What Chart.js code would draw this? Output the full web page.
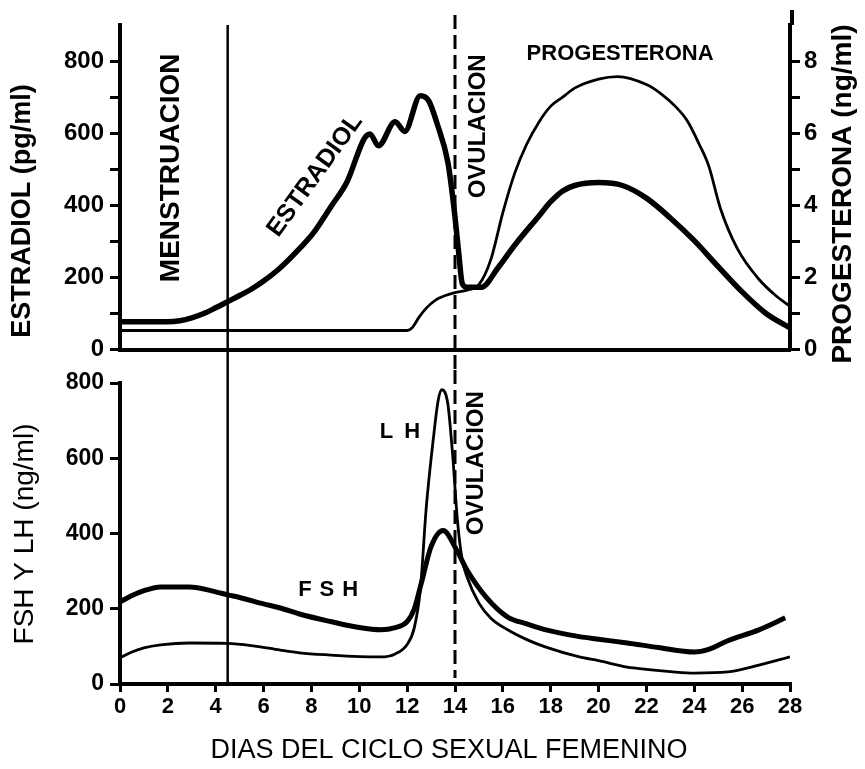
<!DOCTYPE html>
<html>
<head>
<meta charset="utf-8">
<title>Ciclo sexual femenino</title>
<script src="https://cdn.jsdelivr.net/npm/chart.js@4.4.1/dist/chart.umd.min.js"></script>
<style>
    body { margin: 0; background: #fff; }
    #wrap { position: relative; width: 865px; height: 769px; background: #fff; }
    #wrap canvas { position: absolute; left: 0; }
    #topChart { top: 0; }
    #bottomChart { top: 360px; }
</style>
</head>
<body>
<div id="wrap">
    <canvas id="topChart" width="865" height="370"></canvas>
    <canvas id="bottomChart" width="865" height="409"></canvas>
</div>
<script>
// ---- data (x = day of cycle) ----
const estradiolDays = [0, 1, 2, 2.5, 3, 3.5, 4, 4.5, 5, 5.5, 6, 6.7, 7.5, 8.1, 8.8, 9.5, 10.2, 10.45, 10.8, 11.5, 11.9, 12.55, 12.9, 13.25, 13.7, 13.95, 14.15, 14.3, 14.5, 15.1, 15.8, 16.5, 17.5, 18, 18.5, 19, 20, 21, 22, 23, 24, 25, 26, 27, 28];
const estradiolValues = [77, 77, 77, 80, 88, 100, 116, 133, 150, 168, 190, 227, 280, 325, 395, 467, 584, 598, 565, 632, 605, 704, 690, 627, 520, 397, 272, 184, 173, 173, 227, 290, 370, 410, 440, 455, 463, 455, 420, 365, 302, 230, 160, 100, 60];

const progesteronaDays = [0, 12, 12.2, 12.5, 12.8, 13.2, 13.6, 14, 14.5, 15, 15.5, 16, 16.5, 17, 17.5, 18, 18.5, 19, 20, 20.8, 22, 22.6, 23.2, 23.7, 24.2, 24.6, 25.1, 25.8, 26.7, 27.4, 28];
const progesteronaValues = [0.53, 0.53, 0.6, 0.9, 1.15, 1.38, 1.5, 1.58, 1.65, 1.8, 2.5, 3.8, 4.9, 5.7, 6.3, 6.75, 7.0, 7.25, 7.5, 7.57, 7.35, 7.1, 6.75, 6.35, 5.7, 5.1, 3.9, 2.8, 1.95, 1.5, 1.2];

const fshDays = [0, 0.5, 1, 1.7, 2.9, 4, 4.5, 5, 6, 6.7, 7.5, 8.8, 10, 10.9, 11.5, 12, 12.3, 12.6, 13, 13.5, 14.1, 14.5, 15.3, 16.2, 17, 17.8, 19.2, 20, 21.2, 22.5, 24, 24.6, 25.4, 26.7, 27.8];
const fshValues = [218, 235, 248, 258, 258, 245, 237, 230, 213, 202, 186, 166, 150, 144, 150, 166, 200, 270, 365, 408, 352, 303, 231, 178, 160, 144, 126, 119, 109, 97, 85, 92, 115, 144, 176];

const lhDays = [0, 0.5, 1, 1.7, 2.9, 4.5, 5.5, 6.7, 7.5, 8.8, 10, 10.9, 11.5, 12, 12.3, 12.55, 12.8, 13.1, 13.3, 13.45, 13.7, 13.9, 14.1, 14.3, 14.5, 15, 15.5, 16.2, 17, 17.8, 19.2, 20, 21.2, 22, 23, 24, 25.4, 26.7, 28];
const lhValues = [70, 85, 96, 104, 109, 108, 102, 90, 83, 77, 73, 72, 80, 105, 150, 250, 470, 655, 755, 782, 745, 610, 436, 330, 285, 215, 175, 144, 118, 98, 72, 62, 45, 39, 33, 29, 32, 50, 72];

const menstruacionFin = 4.5;
const ovulacion = 14;

const FONT = '"Liberation Sans", Arial, Helvetica, sans-serif';
Chart.defaults.font.family = FONT;
Chart.defaults.color = '#000';

function pts(days, values) {
    return days.map((d, i) => ({ x: d, y: values[i] }));
}

// vertical day lines + text notes placed in data units
const markers = {
    id: 'markers',
    afterDatasetsDraw(chart, args, opts) {
        const { ctx, chartArea, scales } = chart;
        const sx = scales.x;
        ctx.save();
        ctx.strokeStyle = '#000';

        ctx.lineWidth = 2.5;
        ctx.beginPath();
        const xm = sx.getPixelForValue(menstruacionFin);
        ctx.moveTo(xm, opts.solid[0] === 'top' ? chartArea.top : opts.solid[0]);
        ctx.lineTo(xm, opts.solid[1] === 'bottom' ? chartArea.bottom : opts.solid[1]);
        ctx.stroke();

        ctx.lineWidth = 3;
        ctx.setLineDash([14, 6]);
        ctx.beginPath();
        const xo = sx.getPixelForValue(ovulacion);
        ctx.moveTo(xo, opts.dashed[0]);
        ctx.lineTo(xo, opts.dashed[1] === 'bottom' ? chartArea.bottom - 6 : opts.dashed[1]);
        ctx.stroke();
        ctx.setLineDash([]);

        if (opts.rightExtend) {
            ctx.lineWidth = 4;
            ctx.beginPath();
            ctx.moveTo(chartArea.right + 2, chartArea.top);
            ctx.lineTo(chartArea.right + 2, opts.rightExtend);
            ctx.stroke();
        }

        ctx.fillStyle = '#000';
        ctx.textAlign = 'center';
        ctx.textBaseline = 'middle';
        (opts.notes || []).forEach(n => {
            const px = sx.getPixelForValue(n.day);
            const py = scales[n.axis || 'y'].getPixelForValue(n.value);
            ctx.save();
            ctx.translate(px, py);
            ctx.rotate((n.angle || 0) * Math.PI / 180);
            ctx.font = n.font;
            ctx.letterSpacing = (n.spacing || 0) + 'px';
            ctx.fillText(n.text, (n.spacing || 0) / 2, 0);
            ctx.restore();
        });

        (opts.titles || []).forEach(t => {
            ctx.save();
            ctx.translate(t.x, t.y);
            ctx.rotate((t.angle || 0) * Math.PI / 180);
            ctx.font = t.font;
            ctx.fillText(t.text, 0, 0);
            ctx.restore();
        });
        ctx.restore();
    }
};

const axisTicks = {
    display: true,
    drawOnChartArea: false,
    drawTicks: true,
    tickLength: 10,
    lineWidth: 3,
    color: '#000'
};

// ---- top panel: estradiol + progesterona ----
new Chart(document.getElementById('topChart'), {
    type: 'line',
    data: {
        datasets: [{
            label: 'Estradiol',
            data: pts(estradiolDays, estradiolValues),
            yAxisID: 'y',
            borderColor: '#000',
            borderWidth: 5.5,
            pointRadius: 0,
            cubicInterpolationMode: 'monotone'
        }, {
            label: 'Progesterona',
            data: pts(progesteronaDays, progesteronaValues),
            yAxisID: 'y1',
            borderColor: '#000',
            borderWidth: 2.8,
            pointRadius: 0,
            cubicInterpolationMode: 'monotone'
        }]
    },
    options: {
        responsive: false,
        animation: false,
        layout: { padding: { top: 25, right: 0, left: 0, bottom: 0 } },
        plugins: {
            legend: { display: false },
            tooltip: { enabled: false },
            markers: {
                solid: ['top', 370],
                dashed: [15, 370],
                rightExtend: 10,
                notes: [
                    { text: 'MENSTRUACION', day: 2.13, value: 504, angle: -90, font: 'bold 28px ' + FONT },
                    { text: 'ESTRADIOL', day: 8.15, value: 483, angle: -54, font: 'bold 25px ' + FONT },
                    { text: 'OVULACION', day: 14.96, value: 619, angle: -90, font: 'bold 24px ' + FONT },
                    { text: 'PROGESTERONA', day: 20.9, value: 819, angle: 0, font: 'bold 22px ' + FONT }
                ],
                titles: [
                    { text: 'ESTRADIOL (pg/ml)', x: 23, y: 211, angle: -90, font: 'bold 27px ' + FONT },
                    { text: 'PROGESTERONA (ng/ml)', x: 843, y: 194, angle: -90, font: 'bold 28px ' + FONT }
                ]
            }
        },
        scales: {
            x: {
                type: 'linear',
                min: 0,
                max: 28,
                ticks: { display: false },
                grid: { display: false },
                border: { display: true, color: '#000', width: 4 },
                afterFit: s => { s.height = 8; }
            },
            y: {
                position: 'left',
                min: 0,
                max: 900,
                ticks: {
                    stepSize: 100,
                    padding: 6,
                    font: { size: 24, weight: 'bold' },
                    callback: v => (v % 200 === 0 && v <= 800) ? v : ''
                },
                grid: Object.assign({}, axisTicks, {
                    color: c => (c.tick && c.tick.value > 800) ? 'rgba(0,0,0,0)' : '#000'
                }),
                border: { display: true, color: '#000', width: 4 },
                afterFit: s => { s.width = 120; }
            },
            y1: {
                position: 'right',
                min: 0,
                max: 9,
                ticks: {
                    stepSize: 1,
                    padding: 4,
                    font: { size: 24, weight: 'bold' },
                    callback: v => (v % 2 === 0 && v <= 8) ? v : ''
                },
                grid: Object.assign({}, axisTicks, {
                    color: c => (c.tick && c.tick.value > 8) ? 'rgba(0,0,0,0)' : '#000'
                }),
                border: { display: true, color: '#000', width: 4 },
                afterFit: s => { s.width = 75; }
            }
        }
    },
    plugins: [markers]
});

// ---- bottom panel: FSH + LH ----
new Chart(document.getElementById('bottomChart'), {
    type: 'line',
    data: {
        datasets: [{
            label: 'FSH',
            data: pts(fshDays, fshValues),
            borderColor: '#000',
            borderWidth: 5,
            pointRadius: 0,
            cubicInterpolationMode: 'monotone'
        }, {
            label: 'LH',
            data: pts(lhDays, lhValues),
            borderColor: '#000',
            borderWidth: 2.8,
            pointRadius: 0,
            cubicInterpolationMode: 'monotone'
        }]
    },
    options: {
        responsive: false,
        animation: false,
        layout: { padding: { top: 23, right: 75, left: 0, bottom: 0 } },
        plugins: {
            legend: { display: false },
            tooltip: { enabled: false },
            markers: {
                solid: [10, 'bottom'],
                dashed: [10, 'bottom'],
                notes: [
                    { text: 'LH', day: 11.7, value: 670, angle: 0, spacing: 11, font: 'bold 22px ' + FONT },
                    { text: 'FSH', day: 8.7, value: 250, angle: 0, spacing: 8, font: 'bold 22px ' + FONT },
                    { text: 'OVULACION', day: 14.88, value: 587, angle: -90, font: 'bold 24px ' + FONT }
                ],
                titles: [
                    { text: 'FSH Y LH (ng/ml)', x: 25, y: 174, angle: -90, font: '28px ' + FONT },
                    { text: 'DIAS DEL CICLO SEXUAL FEMENINO', x: 449, y: 391, angle: 0, font: '27px ' + FONT }
                ]
            }
        },
        scales: {
            x: {
                type: 'linear',
                min: 0,
                max: 28,
                ticks: {
                    stepSize: 2,
                    padding: 2,
                    maxRotation: 0,
                    autoSkip: false,
                    font: { size: 22, weight: 'bold' }
                },
                grid: Object.assign({}, axisTicks, { tickLength: 8 }),
                border: { display: true, color: '#000', width: 4 },
                afterFit: s => { s.height = 85; }
            },
            y: {
                position: 'left',
                min: 0,
                max: 800,
                ticks: {
                    stepSize: 200,
                    padding: 6,
                    font: { size: 23, weight: 'bold' }
                },
                grid: axisTicks,
                border: { display: true, color: '#000', width: 4 },
                afterFit: s => { s.width = 120; }
            }
        }
    },
    plugins: [markers]
});
</script>
</body>
</html>
